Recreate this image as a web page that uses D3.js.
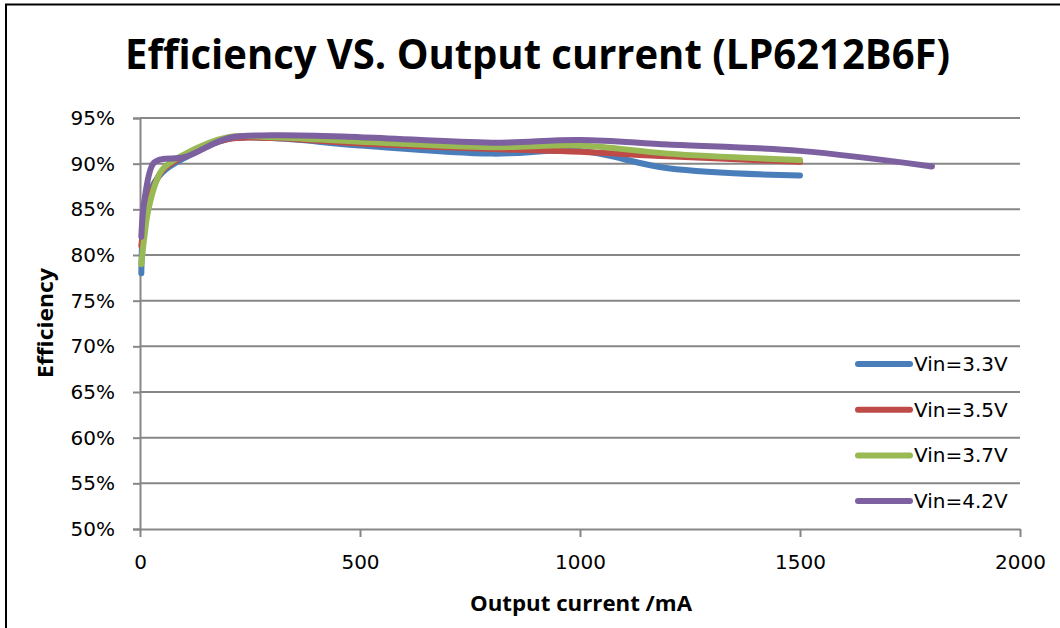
<!DOCTYPE html>
<html>
<head>
<meta charset="utf-8">
<script src="https://cdn.jsdelivr.net/npm/d3@7"></script>
<style>
  html, body { margin: 0; padding: 0; background: #fff; }
  svg { display: block; }
</style>
</head>
<body>
<svg id="chart" width="1060" height="628"></svg>
<script>
// Data (current in mA, efficiency in %)
const seriesNames = ["Vin=3.3V", "Vin=3.5V", "Vin=3.7V", "Vin=4.2V"];
const seriesColors = ["#4A7EBB", "#BE4B48", "#98B954", "#7D60A0"];

const current_33 = [3, 10, 20, 50, 100, 200, 300, 500, 800, 1000, 1200, 1500];
const eff_33     = [78.0, 85.0, 86.8, 89.0, 90.6, 92.7, 92.8, 92.0, 91.1, 91.4, 89.5, 88.7];

const current_35 = [3, 10, 20, 50, 100, 200, 300, 500, 800, 1000, 1200, 1500];
const eff_35     = [81.0, 83.5, 86.0, 89.2, 90.8, 92.7, 92.8, 92.2, 91.6, 91.3, 90.8, 90.2];

const current_37 = [3, 10, 20, 50, 100, 200, 300, 500, 800, 1000, 1200, 1500];
const eff_37     = [79.0, 82.0, 85.2, 89.3, 91.0, 92.9, 92.9, 92.4, 91.8, 92.0, 91.1, 90.4];

const current_42 = [3, 10, 30, 50, 100, 200, 300, 500, 800, 1000, 1200, 1500, 1800];
const eff_42     = [82.0, 86.0, 90.0, 90.5, 90.7, 92.8, 93.1, 92.9, 92.3, 92.6, 92.1, 91.4, 89.7];

const xTicks = [0, 500, 1000, 1500, 2000];
const yTicks = [50, 55, 60, 65, 70, 75, 80, 85, 90, 95];

const seriesX = [current_33, current_35, current_37, current_42];
const seriesY = [eff_33, eff_35, eff_37, eff_42];

const svg = d3.select("#chart");
const gridColor = "#878787";
const labelFont = "'DejaVu Sans', Verdana, sans-serif";
const titleFont = "'Open Sans', 'Noto Sans', sans-serif";

// frame (image is cropped on the right/bottom)
svg.append("rect")
  .attr("x", 6).attr("y", 4.5)
  .attr("width", 1200).attr("height", 800)
  .attr("fill", "none")
  .attr("stroke", "#000")
  .attr("stroke-width", 2);

const x = d3.scaleLinear().domain([0, 2000]).range([140, 1020]);
const y = d3.scaleLinear().domain([50, 95]).range([529, 118]);

// title
svg.append("text")
  .attr("x", 125).attr("y", 69)
  .attr("font-family", titleFont)
  .attr("font-weight", 700)
  .attr("font-size", 42)
  .attr("textLength", 825)
  .attr("lengthAdjust", "spacingAndGlyphs")
  .text("Efficiency VS. Output current (LP6212B6F)");

// horizontal grid lines
svg.append("g")
  .selectAll("line")
  .data(yTicks.filter(d => d > 50))
  .join("line")
    .attr("x1", x(0)).attr("x2", x(2000))
    .attr("y1", d => y(d)).attr("y2", d => y(d))
    .attr("stroke", gridColor)
    .attr("stroke-width", 2);

// y axis
const yAxis = svg.append("g")
  .attr("transform", `translate(${x(0)},0)`)
  .call(d3.axisLeft(y).tickValues(yTicks).tickSize(7).tickPadding(18).tickFormat(d => d + "%"));
yAxis.select(".domain").attr("stroke", gridColor).attr("stroke-width", 2);
yAxis.selectAll(".tick line").attr("stroke", gridColor).attr("stroke-width", 2);
yAxis.selectAll(".tick text")
  .attr("font-family", labelFont)
  .attr("font-size", 20)
  .attr("fill", "#000");

// x axis
const xAxis = svg.append("g")
  .attr("transform", `translate(0,${y(50)})`)
  .call(d3.axisBottom(x).tickValues(xTicks).tickSize(8).tickSizeOuter(0).tickPadding(18).tickFormat(d3.format("d")));
xAxis.select(".domain").attr("stroke", gridColor).attr("stroke-width", 2);
xAxis.selectAll(".tick line").attr("stroke", gridColor).attr("stroke-width", 2);
xAxis.selectAll(".tick text")
  .attr("font-family", labelFont)
  .attr("font-size", 20)
  .attr("fill", "#000");

// axis titles
svg.append("text")
  .attr("x", 581).attr("y", 611)
  .attr("text-anchor", "middle")
  .attr("font-family", titleFont)
  .attr("font-weight", 700)
  .attr("font-size", 21)
  .attr("textLength", 222)
  .attr("lengthAdjust", "spacingAndGlyphs")
  .text("Output current /mA");

svg.append("text")
  .attr("transform", "translate(53,323) rotate(-90)")
  .attr("text-anchor", "middle")
  .attr("font-family", titleFont)
  .attr("font-weight", 700)
  .attr("font-size", 21)
  .attr("textLength", 110)
  .attr("lengthAdjust", "spacingAndGlyphs")
  .text("Efficiency");

// series lines
const line = d3.line()
  .x(d => x(d[0]))
  .y(d => y(d[1]))
  .curve(d3.curveCatmullRom.alpha(0.5));

seriesNames.forEach((name, i) => {
  const pts = seriesX[i].map((c, j) => [c, seriesY[i][j]]);
  svg.append("path")
    .datum(pts)
    .attr("fill", "none")
    .attr("stroke", seriesColors[i])
    .attr("stroke-width", 6)
    .attr("stroke-linecap", "round")
    .attr("stroke-linejoin", "round")
    .attr("d", line);
});

// legend
const legend = svg.append("g")
  .selectAll("g")
  .data(seriesNames)
  .join("g")
    .attr("transform", (d, i) => `translate(858,${364 + i * 45.7})`);
legend.append("line")
  .attr("x1", 0).attr("x2", 52)
  .attr("stroke", (d, i) => seriesColors[i])
  .attr("stroke-width", 6)
  .attr("stroke-linecap", "round");
legend.append("text")
  .attr("x", 56).attr("y", 7)
  .attr("font-family", labelFont)
  .attr("font-size", 20)
  .attr("fill", "#000")
  .text(d => d);
</script>
</body>
</html>
